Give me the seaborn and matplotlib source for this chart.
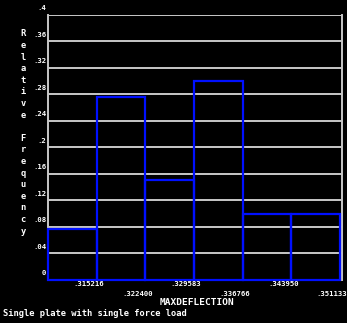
import numpy as np
import pandas as pd
import matplotlib
matplotlib.use("Agg")
import matplotlib.pyplot as plt
import matplotlib.transforms as mtransforms
import seaborn as sns

# histogram of MAXDEFLECTION (relative frequency per cell)
edges = np.linspace(0.308033, 0.351133, 7)
rel_freq = [0.0757, 0.2764, 0.150, 0.3006, 0.0993, 0.0993]
y_ticks = [0, 0.04, 0.08, 0.12, 0.16, 0.2, 0.24, 0.28, 0.32, 0.36, 0.4]
y_labels = ["0", ".04", ".08", ".12", ".16", ".2", ".24", ".28", ".32", ".36", ".4"]
x_labels = [f"{v:.6f}".lstrip("0") for v in edges[1:]]

centers = (edges[:-1] + edges[1:]) / 2
df = pd.DataFrame({"MAXDEFLECTION": centers, "freq": rel_freq})

sns.set_style("dark")
plt.rcParams['font.family'] = ['DejaVu Sans Mono', 'DejaVu Sans']

fig = plt.figure(figsize=(3.47, 3.23), dpi=100, facecolor="black")
ax = fig.add_axes([48 / 347, 1 - 279.5 / 323, 294 / 347, 264.5 / 323])
ax.set_facecolor("black")

sns.histplot(data=df, x="MAXDEFLECTION", weights="freq", bins=list(edges),
             fill=False, element="bars", color="#0010ff", linewidth=1.6, ax=ax)
for p in ax.patches:
    p.set_clip_on(False)
    p.set_zorder(3)

span = edges[-1] - edges[0]
ax.set_xlim(edges[0], edges[-1] + span * 2 / 292)
ax.set_ylim(0, 0.4)

# grid lines and labels sitting just above them
ax.grid(False)
ax.set_yticks([])
ax.set_xticks([])
ax.set_xlabel("")
ax.set_ylabel("")
yoff = mtransforms.ScaledTranslation(-2 / 100, 3.5 / 100, fig.dpi_scale_trans)
for v, t in zip(y_ticks, y_labels):
    if v > 0:
        ax.axhline(v, color="#c8c8c8", lw=1.4, zorder=0)
    ax.text(0, v, t, transform=ax.get_yaxis_transform() + yoff, ha="right",
            va="bottom", color="white", fontsize=5.2, fontweight="bold")

for s in ["top", "bottom"]:
    ax.spines[s].set_visible(False)
for s in ["left", "right"]:
    ax.spines[s].set_visible(True)
    ax.spines[s].set_color("#c8c8c8")
    ax.spines[s].set_linewidth(1.4)

# staggered x labels at cell boundaries
off = mtransforms.ScaledTranslation(-8 / 100, 0, fig.dpi_scale_trans)
trans = ax.get_xaxis_transform() + off
for i, (v, t) in enumerate(zip(edges[1:], x_labels)):
    yy = -4.5 / 264.5 if i % 2 == 0 else -14.5 / 264.5
    ax.text(v, yy, t, transform=trans, ha="center", va="center",
            color="white", fontsize=5.2, fontweight="bold")

fig.text(197 / 347, 1 - 302.5 / 323, "MAXDEFLECTION", ha="center", va="center",
         color="white", fontsize=6.8, fontweight="bold")
fig.text(3 / 347, 1 - 313 / 323, "Single plate with single force load",
         ha="left", va="center", color="white", fontsize=6.3, fontweight="bold")
fig.text(23 / 347, 1 - 132.5 / 323, "\n".join("Relative Frequency"),
         ha="center", va="center", color="white", fontsize=6.3,
         fontweight="bold", linespacing=1.37)

fig.savefig("out.png", dpi=100, facecolor="black")
